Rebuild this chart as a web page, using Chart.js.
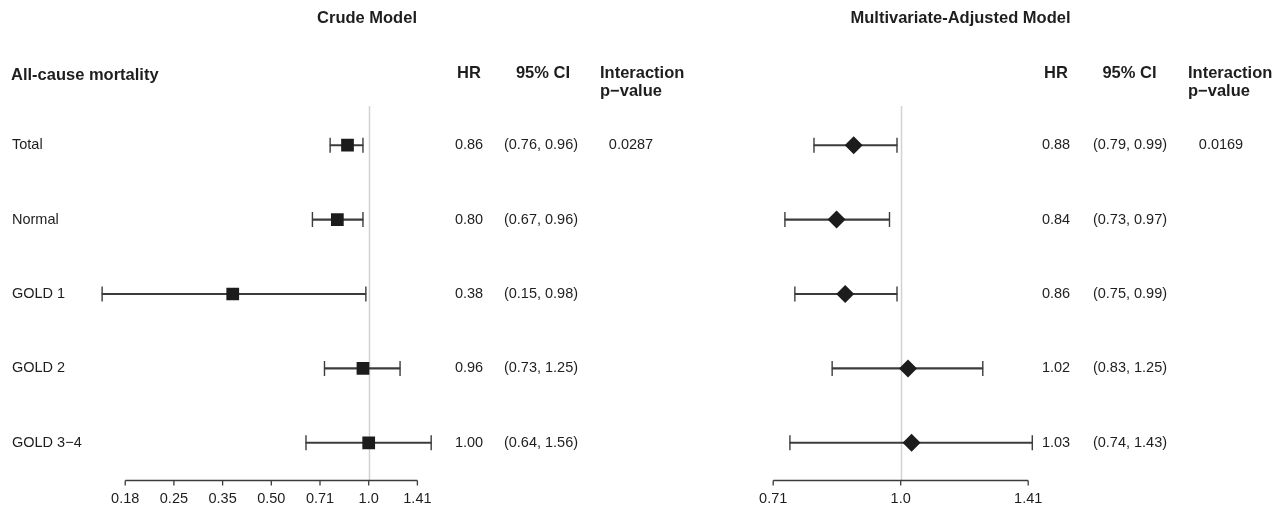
<!DOCTYPE html>
<html>
  <head>
    <meta charset="utf-8">
    <title>All-cause mortality forest plot</title>
    <style>
      body { margin: 0; background: #fff; }
      canvas { position: absolute; top: 0; }
      #crude { left: 0; }
      #adjusted { left: 700px; }
    </style>
  </head>
  <body>
    <canvas id="crude" width="700" height="506"></canvas>
    <canvas id="adjusted" width="586" height="506"></canvas>

    <script src="https://cdn.jsdelivr.net/npm/chart.js@4.4.1/dist/chart.umd.min.js"></script>
    <script>
      // rows and values
      var rows = ['Total', 'Normal', 'GOLD 1', 'GOLD 2', 'GOLD 3\u22124'];

      var crudeHR = [0.86, 0.80, 0.38, 0.96, 1.00];
      var crudeLo = [0.76, 0.67, 0.15, 0.73, 0.64];
      var crudeHi = [0.96, 0.96, 0.98, 1.25, 1.56];
      var crudeP = ['0.0287', '', '', '', ''];

      var adjHR = [0.88, 0.84, 0.86, 1.02, 1.03];
      var adjLo = [0.79, 0.73, 0.75, 0.83, 0.74];
      var adjHi = [0.99, 0.97, 0.99, 1.25, 1.43];
      var adjP = ['0.0169', '', '', '', ''];

      var crudeTicks = [0.1768, 0.25, 0.3536, 0.5, 0.7071, 1, 1.4142];
      var crudeTickLabels = ['0.18', '0.25', '0.35', '0.50', '0.71', '1.0', '1.41'];
      var adjTicks = [0.7071, 1, 1.4142];
      var adjTickLabels = ['0.71', '1.0', '1.41'];

      var FONT = '"Liberation Sans", Arial, Helvetica, sans-serif';
      var INK = '#1e1e1e';
      var LINE = '#3c3c3c';

      function txt(ctx, s, x, y, align, bold, size) {
        ctx.font = (bold ? 'bold ' : '') + size + 'px ' + FONT;
        ctx.textAlign = align;
        ctx.textBaseline = 'middle';
        ctx.fillStyle = INK;
        ctx.fillText(s, x, y);
      }

      function forest(id, cfg) {
        var W = cfg.width;
        var padL = cfg.one + cfg.ppd * Math.log2(cfg.min);
        var padR = W - (cfg.one + cfg.ppd * Math.log2(cfg.max));

        var caps = [];
        for (var i = 0; i < rows.length; i++) {
          caps.push({x: cfg.lo[i], y: rows[i]});
          caps.push({x: cfg.hi[i], y: rows[i]});
        }

        var deco = {
          id: 'deco',
          beforeDatasetsDraw: function (chart) {
            var ctx = chart.ctx, a = chart.chartArea, xs = chart.scales.x;
            var x1 = Math.round(xs.getPixelForValue(1)) + 0.5;
            ctx.save();
            ctx.strokeStyle = '#d2d2d2';
            ctx.lineWidth = 1.5;
            ctx.beginPath();
            ctx.moveTo(x1, a.top - 2);
            ctx.lineTo(x1, a.bottom);
            ctx.stroke();
            ctx.restore();
          },
          afterDraw: function (chart) {
            var ctx = chart.ctx, a = chart.chartArea;
            var xs = chart.scales.x, ys = chart.scales.y;
            ctx.save();
            // axis only over the tick range
            var ax0 = xs.getPixelForValue(cfg.ticks[0]);
            var ax1 = xs.getPixelForValue(cfg.ticks[cfg.ticks.length - 1]);
            var ay = a.bottom + 0.5;
            ctx.strokeStyle = LINE;
            ctx.lineWidth = 1.3;
            ctx.beginPath();
            ctx.moveTo(ax0, ay);
            ctx.lineTo(ax1, ay);
            for (var t = 0; t < cfg.ticks.length; t++) {
              var tx = xs.getPixelForValue(cfg.ticks[t]);
              ctx.moveTo(tx, ay);
              ctx.lineTo(tx, ay + 5);
            }
            ctx.stroke();
            for (var t = 0; t < cfg.ticks.length; t++) {
              txt(ctx, cfg.tickLabels[t], xs.getPixelForValue(cfg.ticks[t]), 499, 'center', false, 14.5);
            }

            // headings
            txt(ctx, cfg.title, cfg.titleX, 18, 'center', true, 16.5);
            if (cfg.heading) txt(ctx, cfg.heading, 11, 75, 'left', true, 16.5);
            txt(ctx, 'HR', cfg.hrX, 73, 'center', true, 16.5);
            txt(ctx, '95% CI', cfg.ciHeadX, 73, 'center', true, 16.5);
            txt(ctx, 'Interaction', cfg.intX, 73, 'left', true, 16.5);
            txt(ctx, 'p\u2212value', cfg.intX, 91, 'left', true, 16.5);

            // table columns
            for (var i = 0; i < rows.length; i++) {
              var y = ys.getPixelForValue(i);
              if (cfg.labels) txt(ctx, rows[i], 12, y, 'left', false, 14.5);
              txt(ctx, cfg.hr[i].toFixed(2), cfg.hrX, y, 'center', false, 14.5);
              txt(ctx, '(' + cfg.lo[i].toFixed(2) + ', ' + cfg.hi[i].toFixed(2) + ')', cfg.ciX, y, 'center', false, 14.5);
              if (cfg.p[i]) txt(ctx, cfg.p[i], cfg.pX, y, 'center', false, 14.5);
            }
            ctx.restore();
          }
        };

        return new Chart(document.getElementById(id), {
          type: 'bar',
          data: {
            labels: rows,
            datasets: [
              {
                type: 'bar',
                data: cfg.lo.map(function (l, i) { return [l, cfg.hi[i]]; }),
                backgroundColor: LINE,
                barThickness: 1.4,
                order: 3
              },
              {
                type: 'scatter',
                data: caps,
                pointStyle: 'line',
                rotation: 90,
                radius: 7.5,
                borderColor: LINE,
                borderWidth: 1.4,
                order: 2
              },
              {
                type: 'scatter',
                data: cfg.hr.map(function (v, i) { return {x: v, y: rows[i]}; }),
                pointStyle: cfg.marker,
                radius: 9,
                backgroundColor: '#1c1c1c',
                borderColor: '#1c1c1c',
                borderWidth: 0,
                order: 1
              }
            ]
          },
          options: {
            indexAxis: 'y',
            responsive: false,
            animation: false,
            events: [],
            layout: {padding: {left: padL, right: padR, top: 108, bottom: 26}},
            plugins: {legend: {display: false}, tooltip: {enabled: false}},
            scales: {
              x: {type: 'logarithmic', min: cfg.min, max: cfg.max, bounds: 'data', display: false},
              y: {type: 'category', offset: true, display: false}
            }
          },
          plugins: [deco]
        });
      }

      forest('crude', {
        width: 700, one: 368.7, ppd: 97.4, min: 0.125, max: 2,
        hr: crudeHR, lo: crudeLo, hi: crudeHi, p: crudeP,
        ticks: crudeTicks, tickLabels: crudeTickLabels,
        marker: 'rect', labels: true,
        title: 'Crude Model', titleX: 367, heading: 'All-cause mortality',
        hrX: 469, ciHeadX: 543, ciX: 541, intX: 600, pX: 631
      });

      forest('adjusted', {
        width: 586, one: 200.7, ppd: 255, min: 0.6, max: 1.7,
        hr: adjHR, lo: adjLo, hi: adjHi, p: adjP,
        ticks: adjTicks, tickLabels: adjTickLabels,
        marker: 'rectRot', labels: false,
        title: 'Multivariate-Adjusted Model', titleX: 260.5, heading: null,
        hrX: 356, ciHeadX: 429.5, ciX: 430, intX: 488, pX: 521
      });
    </script>
  </body>
</html>
